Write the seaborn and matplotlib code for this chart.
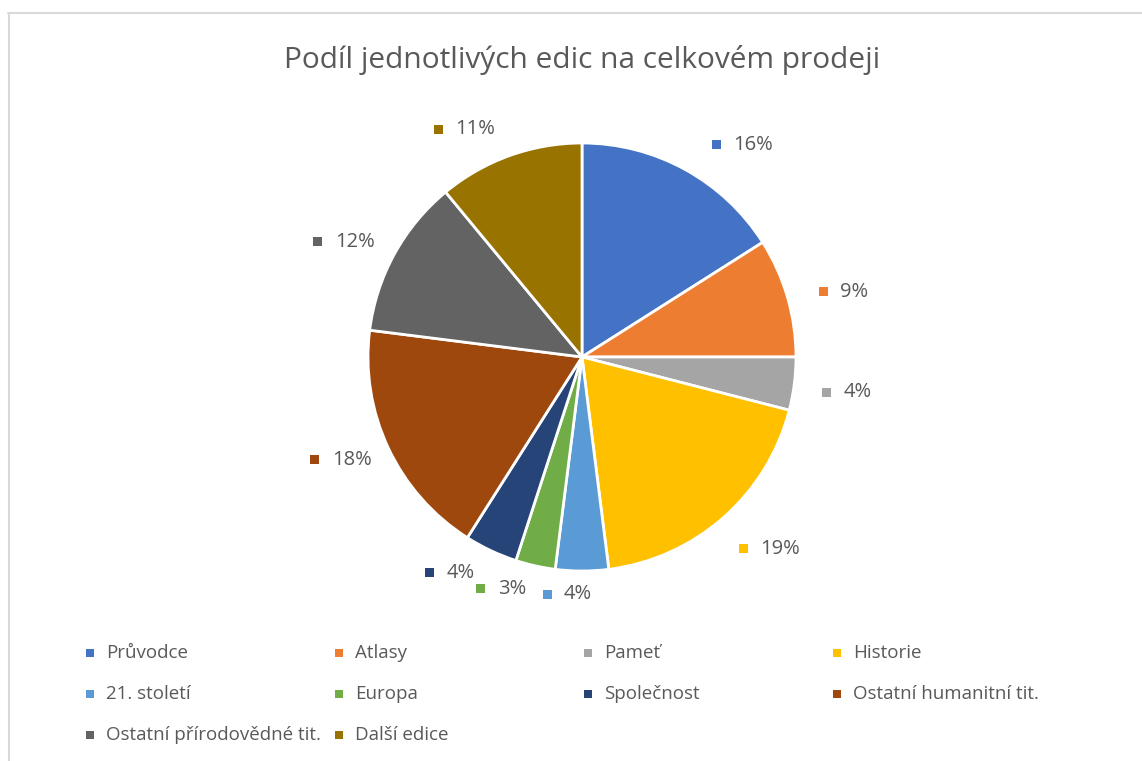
import matplotlib
matplotlib.use('Agg')

import numpy as np
import matplotlib.pyplot as plt
from matplotlib.lines import Line2D
from matplotlib.patches import Rectangle
import seaborn as sns

sns.set_theme(style="white")
plt.rcParams['font.family'] = ['Open Sans', 'DejaVu Sans']

title = "Podíl jednotlivých edic na celkovém prodeji"
edice = ["Průvodce", "Atlasy", "Pameť", "Historie", "21. století", "Europa",
         "Společnost", "Ostatní humanitní tit.", "Ostatní přírodovědné tit.", "Další edice"]
podil = [16, 9, 4, 19, 4, 3, 4, 18, 12, 11]
barvy = ["#4472C4", "#ED7D31", "#A5A5A5", "#FFC000", "#5B9BD5", "#70AD47",
         "#264478", "#9E480E", "#636363", "#997300"]

# label layout (Excel "best fit"): radial distance in radii, angular nudge in degrees
label_dist = [1.24, 1.28, 1.27, 1.25, 1.11, 1.14, 1.17, 1.23, 1.24, 1.20]
label_shift = [-8.1, -2.4, -0.2, 2.8, -2.4, -5.6, -5.4, -2.2, 3.1, 7.8]

W, H = 1142, 761
fig = plt.figure(figsize=(W / 100, H / 100), dpi=100)
text_col = "#595959"


def square(x, y, col, s=8):
    # small square marker, x/y in pixels from top-left
    fig.add_artist(Rectangle(((x - s / 2) / W, 1 - (y + s / 2) / H), s / W, s / H,
                             transform=fig.transFigure, color=col, lw=0))


# frame like the Excel chart area
fig.add_artist(Line2D([8 / W, 1], [1 - 13 / H, 1 - 13 / H], color="#d9d9d9", lw=1.5))
fig.add_artist(Line2D([9 / W, 9 / W], [0, 1 - 13 / H], color="#d9d9d9", lw=1.5))

fig.text(582 / W, 1 - 60 / H, title, ha="center", va="center", fontsize=21.5, color=text_col)

# pie axes: centre (582,357), radius 214 px
cx, cy, r = 582, 357, 214
ax = fig.add_axes([(cx - r) / W, (H - cy - r) / H, 2 * r / W, 2 * r / H])
wedges, _ = ax.pie(podil, colors=barvy, startangle=90, counterclock=False, radius=1,
                   wedgeprops=dict(edgecolor="white", linewidth=2))
ax.set_xlim(-1, 1)
ax.set_ylim(-1, 1)
ax.set_aspect("auto")
ax.axis("off")

total = sum(podil)
cum = np.cumsum([0] + podil[:-1])
for v, c, col, d, sh in zip(podil, cum, barvy, label_dist, label_shift):
    mid = np.deg2rad(90 - 360 * (c + v / 2) / total + sh)
    px = cx + d * r * np.cos(mid)
    py = cy - d * r * np.sin(mid)
    square(px - 25, py, col, s=9)
    fig.text((px - 8) / W, 1 - py / H, f"{v}%", ha="left", va="center",
             fontsize=14.5, color=text_col)

# legend drawn as a fixed grid like Excel
for i, (name, col) in enumerate(zip(edice, barvy)):
    row, c = divmod(i, 4)
    x = 90 + c * 249
    y = 653 + row * 41
    square(x, y, col)
    fig.text((x + 16) / W, 1 - y / H, name, ha="left", va="center",
             fontsize=13.5, color=text_col)

fig.savefig("out.png", dpi=100, facecolor="white")
